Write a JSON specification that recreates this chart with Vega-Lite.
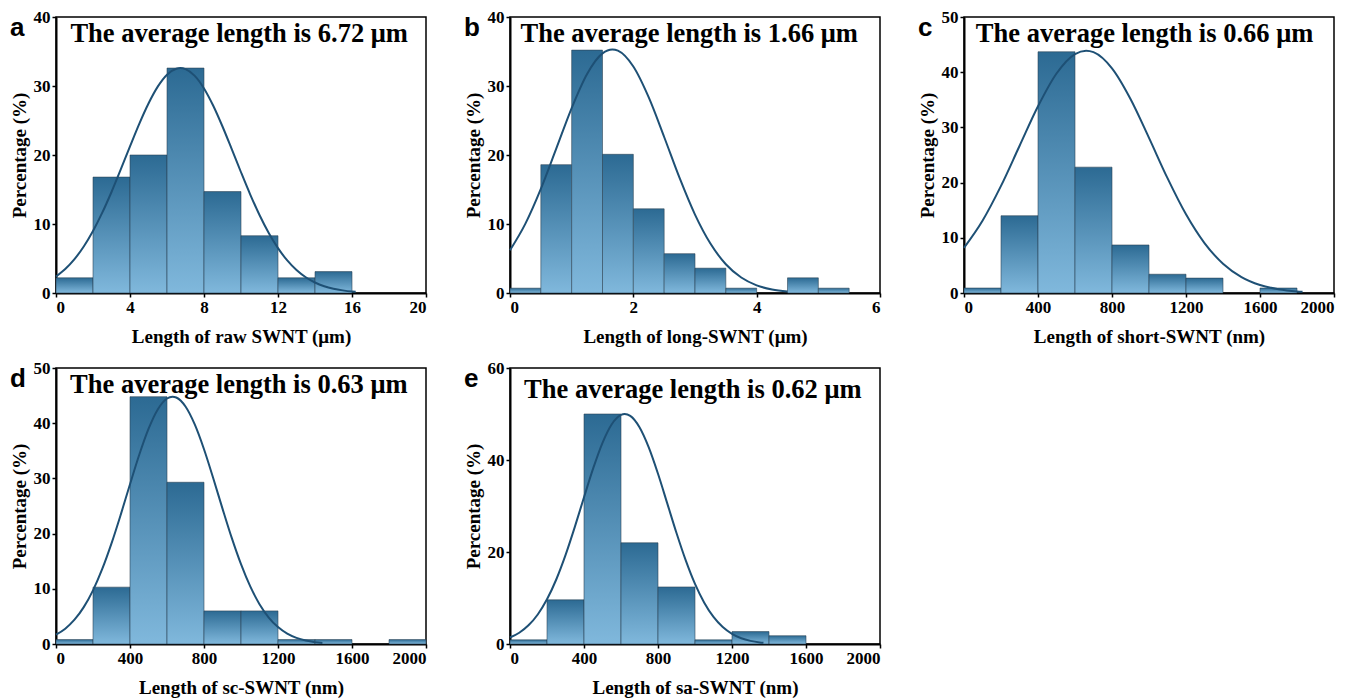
{
  "$schema": "https://vega.github.io/schema/vega-lite/v6.json",
  "padding": {"left": 9, "top": 7, "right": 0, "bottom": 5},
  "background": "white",
  "columns": 3,
  "bounds": "flush",
  "spacing": {"row": 75, "column": 84},
  "datasets": {
    "bars_a": [
      {"start": 0, "end": 2, "pct": 2.2}, {"start": 2, "end": 4, "pct": 16.8}, {"start": 4, "end": 6, "pct": 20.0},
      {"start": 6, "end": 8, "pct": 32.6}, {"start": 8, "end": 10, "pct": 14.7}, {"start": 10, "end": 12, "pct": 8.3},
      {"start": 12, "end": 14, "pct": 2.2}, {"start": 14, "end": 16, "pct": 3.1}
    ],
    "curve_a": [
      {"len": 0, "pct": 2.39}, {"len": 0.5, "pct": 3.48}, {"len": 1, "pct": 4.91}, {"len": 1.5, "pct": 6.74}, {"len": 2, "pct": 8.98},
      {"len": 2.5, "pct": 11.64}, {"len": 3, "pct": 14.64}, {"len": 3.5, "pct": 17.9}, {"len": 4, "pct": 21.25}, {"len": 4.5, "pct": 24.52},
      {"len": 5, "pct": 27.47}, {"len": 5.5, "pct": 29.91}, {"len": 6, "pct": 31.64}, {"len": 6.5, "pct": 32.51}, {"len": 6.72, "pct": 32.6},
      {"len": 7, "pct": 32.45}, {"len": 7.5, "pct": 31.47}, {"len": 8, "pct": 29.65}, {"len": 8.5, "pct": 27.14}, {"len": 9, "pct": 24.13},
      {"len": 9.5, "pct": 20.85}, {"len": 10, "pct": 17.5}, {"len": 10.5, "pct": 14.27}, {"len": 11, "pct": 11.3}, {"len": 11.5, "pct": 8.69},
      {"len": 12, "pct": 6.5}, {"len": 12.5, "pct": 4.72}, {"len": 13, "pct": 3.33}, {"len": 13.5, "pct": 2.28}, {"len": 14, "pct": 1.52},
      {"len": 14.5, "pct": 0.98}, {"len": 15, "pct": 0.62}, {"len": 15.5, "pct": 0.38}, {"len": 16, "pct": 0.22}, {"len": 16.2, "pct": 0.18}
    ],
    "bars_b": [
      {"start": 0, "end": 0.5, "pct": 0.7}, {"start": 0.5, "end": 1, "pct": 18.6}, {"start": 1, "end": 1.5, "pct": 35.2},
      {"start": 1.5, "end": 2, "pct": 20.1}, {"start": 2, "end": 2.5, "pct": 12.2}, {"start": 2.5, "end": 3, "pct": 5.7},
      {"start": 3, "end": 3.5, "pct": 3.6}, {"start": 3.5, "end": 4, "pct": 0.7}, {"start": 4.5, "end": 5, "pct": 2.2},
      {"start": 5, "end": 5.5, "pct": 0.7}
    ],
    "curve_b": [
      {"len": 0, "pct": 6.2}, {"len": 0.25, "pct": 10.06}, {"len": 0.5, "pct": 15.1}, {"len": 0.75, "pct": 20.93}, {"len": 1, "pct": 26.81},
      {"len": 1.25, "pct": 31.75}, {"len": 1.5, "pct": 34.73}, {"len": 1.66, "pct": 35.3}, {"len": 1.75, "pct": 35.12}, {"len": 2, "pct": 32.82},
      {"len": 2.25, "pct": 28.34}, {"len": 2.5, "pct": 22.61}, {"len": 2.75, "pct": 16.67}, {"len": 3, "pct": 11.36}, {"len": 3.25, "pct": 7.16},
      {"len": 3.5, "pct": 4.17}, {"len": 3.75, "pct": 2.24}, {"len": 4, "pct": 1.11}, {"len": 4.25, "pct": 0.51}, {"len": 4.5, "pct": 0.22}
    ],
    "bars_c": [
      {"start": 0, "end": 200, "pct": 0.9}, {"start": 200, "end": 400, "pct": 14.0}, {"start": 400, "end": 600, "pct": 43.7},
      {"start": 600, "end": 800, "pct": 22.8}, {"start": 800, "end": 1000, "pct": 8.7}, {"start": 1000, "end": 1200, "pct": 3.4},
      {"start": 1200, "end": 1400, "pct": 2.7}, {"start": 1600, "end": 1800, "pct": 0.9}
    ],
    "curve_c": [
      {"len": 0, "pct": 8.18}, {"len": 100, "pct": 13.09}, {"len": 200, "pct": 19.4}, {"len": 300, "pct": 26.63}, {"len": 400, "pct": 33.82},
      {"len": 500, "pct": 39.77}, {"len": 600, "pct": 43.29}, {"len": 660, "pct": 43.9}, {"len": 700, "pct": 43.63}, {"len": 800, "pct": 40.7},
      {"len": 900, "pct": 35.15}, {"len": 1000, "pct": 28.1}, {"len": 1100, "pct": 20.8}, {"len": 1200, "pct": 14.25}, {"len": 1300, "pct": 9.04},
      {"len": 1400, "pct": 5.31}, {"len": 1500, "pct": 2.89}, {"len": 1600, "pct": 1.45}, {"len": 1700, "pct": 0.68}, {"len": 1800, "pct": 0.29},
      {"len": 1830, "pct": 0.22}
    ],
    "bars_d": [
      {"start": 0, "end": 200, "pct": 0.8}, {"start": 200, "end": 400, "pct": 10.3}, {"start": 400, "end": 600, "pct": 44.8},
      {"start": 600, "end": 800, "pct": 29.3}, {"start": 800, "end": 1000, "pct": 6.0}, {"start": 1000, "end": 1200, "pct": 6.0},
      {"start": 1200, "end": 1400, "pct": 0.8}, {"start": 1400, "end": 1600, "pct": 0.8}, {"start": 1800, "end": 2000, "pct": 0.8}
    ],
    "curve_d": [
      {"len": 0, "pct": 1.69}, {"len": 50, "pct": 2.78}, {"len": 100, "pct": 4.4}, {"len": 150, "pct": 6.68}, {"len": 200, "pct": 9.72},
      {"len": 250, "pct": 13.59}, {"len": 300, "pct": 18.22}, {"len": 350, "pct": 23.44}, {"len": 400, "pct": 28.94}, {"len": 450, "pct": 34.28},
      {"len": 500, "pct": 38.96}, {"len": 550, "pct": 42.49}, {"len": 600, "pct": 44.47}, {"len": 630, "pct": 44.8}, {"len": 650, "pct": 44.65},
      {"len": 700, "pct": 43.02}, {"len": 750, "pct": 39.77}, {"len": 800, "pct": 35.28}, {"len": 850, "pct": 30.03}, {"len": 900, "pct": 24.53},
      {"len": 950, "pct": 19.22}, {"len": 1000, "pct": 14.46}, {"len": 1050, "pct": 10.43}, {"len": 1100, "pct": 7.22}, {"len": 1150, "pct": 4.8},
      {"len": 1200, "pct": 3.06}, {"len": 1250, "pct": 1.87}, {"len": 1300, "pct": 1.1}, {"len": 1350, "pct": 0.62}, {"len": 1400, "pct": 0.33},
      {"len": 1440, "pct": 0.2}
    ],
    "bars_e": [
      {"start": 0, "end": 200, "pct": 0.9}, {"start": 200, "end": 400, "pct": 9.6}, {"start": 400, "end": 600, "pct": 50.0},
      {"start": 600, "end": 800, "pct": 22.0}, {"start": 800, "end": 1000, "pct": 12.4}, {"start": 1000, "end": 1200, "pct": 0.9},
      {"start": 1200, "end": 1400, "pct": 2.7}, {"start": 1400, "end": 1600, "pct": 1.8}
    ],
    "curve_e": [
      {"len": 0, "pct": 1.41}, {"len": 50, "pct": 2.45}, {"len": 100, "pct": 4.06}, {"len": 150, "pct": 6.42}, {"len": 200, "pct": 9.71},
      {"len": 250, "pct": 14.02}, {"len": 300, "pct": 19.31}, {"len": 350, "pct": 25.4}, {"len": 400, "pct": 31.89}, {"len": 450, "pct": 38.22},
      {"len": 500, "pct": 43.74}, {"len": 550, "pct": 47.78}, {"len": 600, "pct": 49.81}, {"len": 620, "pct": 50.0}, {"len": 650, "pct": 49.58},
      {"len": 700, "pct": 47.11}, {"len": 750, "pct": 42.73}, {"len": 800, "pct": 37.0}, {"len": 850, "pct": 30.58}, {"len": 900, "pct": 24.13},
      {"len": 950, "pct": 18.18}, {"len": 1000, "pct": 13.07}, {"len": 1050, "pct": 8.97}, {"len": 1100, "pct": 5.88}, {"len": 1150, "pct": 3.68},
      {"len": 1200, "pct": 2.2}, {"len": 1250, "pct": 1.25}, {"len": 1300, "pct": 0.68}, {"len": 1350, "pct": 0.35}, {"len": 1370, "pct": 0.27}
    ]
  },
  "concat": [
    {
      "width": 370, "height": 276,
      "title": {"text": "a"},
      "layer": [
        {
          "data": {"name": "bars_a"},
          "mark": {"type": "bar", "stroke": "#2a3f4f", "strokeWidth": 0.8, "strokeOpacity": 0.7,
            "color": {"gradient": "linear", "x1": 0, "y1": 0, "x2": 0, "y2": 1, "stops": [{"offset": 0, "color": "#2c6a93"}, {"offset": 1, "color": "#80b8dc"}]}},
          "encoding": {
            "x": {"field": "start", "type": "quantitative", "title": "Length of raw SWNT (μm)", "scale": {"domain": [0, 20], "nice": false}, "axis": {"values": [0, 4, 8, 12, 16, 20], "format": "d", "titleFontSize": 19, "labelFontSize": 17}},
            "x2": {"field": "end"},
            "y": {"field": "pct", "type": "quantitative", "title": "Percentage (%)", "scale": {"domain": [0, 40], "nice": false}, "axis": {"values": [0, 10, 20, 30, 40], "format": "d", "titleFontSize": 19, "labelFontSize": 17}},
            "y2": {"datum": 0}
          }
        },
        {
          "data": {"name": "curve_a"},
          "mark": {"type": "line", "color": "#1e5075", "strokeWidth": 2, "interpolate": "monotone"},
          "encoding": {
            "x": {"field": "len", "type": "quantitative", "title": "Length of raw SWNT (μm)"},
            "y": {"field": "pct", "type": "quantitative", "title": "Percentage (%)"}
          }
        },
        {
          "data": {"values": [{"label": "The average length is 6.72 μm"}]},
          "mark": {"type": "text", "font": "Liberation Serif", "fontWeight": "bold", "fontSize": 26.5, "align": "center", "baseline": "alphabetic", "color": "#000"},
          "encoding": {"x": {"datum": 9.9}, "y": {"datum": 36.4}, "text": {"field": "label"}}
        }
      ]
    },
    {
      "width": 370, "height": 276,
      "title": {"text": "b"},
      "layer": [
        {
          "data": {"name": "bars_b"},
          "mark": {"type": "bar", "stroke": "#2a3f4f", "strokeWidth": 0.8, "strokeOpacity": 0.7,
            "color": {"gradient": "linear", "x1": 0, "y1": 0, "x2": 0, "y2": 1, "stops": [{"offset": 0, "color": "#2c6a93"}, {"offset": 1, "color": "#80b8dc"}]}},
          "encoding": {
            "x": {"field": "start", "type": "quantitative", "title": "Length of long-SWNT (μm)", "scale": {"domain": [0, 6], "nice": false}, "axis": {"values": [0, 2, 4, 6], "format": "d", "titleFontSize": 19, "labelFontSize": 17}},
            "x2": {"field": "end"},
            "y": {"field": "pct", "type": "quantitative", "title": "Percentage (%)", "scale": {"domain": [0, 40], "nice": false}, "axis": {"values": [0, 10, 20, 30, 40], "format": "d", "titleFontSize": 19, "labelFontSize": 17}},
            "y2": {"datum": 0}
          }
        },
        {
          "data": {"name": "curve_b"},
          "mark": {"type": "line", "color": "#1e5075", "strokeWidth": 2, "interpolate": "monotone"},
          "encoding": {
            "x": {"field": "len", "type": "quantitative", "title": "Length of long-SWNT (μm)"},
            "y": {"field": "pct", "type": "quantitative", "title": "Percentage (%)"}
          }
        },
        {
          "data": {"values": [{"label": "The average length is 1.66 μm"}]},
          "mark": {"type": "text", "font": "Liberation Serif", "fontWeight": "bold", "fontSize": 26.5, "align": "center", "baseline": "alphabetic", "color": "#000"},
          "encoding": {"x": {"datum": 2.906}, "y": {"datum": 36.4}, "text": {"field": "label"}}
        }
      ]
    },
    {
      "width": 370, "height": 276,
      "title": {"text": "c"},
      "layer": [
        {
          "data": {"name": "bars_c"},
          "mark": {"type": "bar", "stroke": "#2a3f4f", "strokeWidth": 0.8, "strokeOpacity": 0.7,
            "color": {"gradient": "linear", "x1": 0, "y1": 0, "x2": 0, "y2": 1, "stops": [{"offset": 0, "color": "#2c6a93"}, {"offset": 1, "color": "#80b8dc"}]}},
          "encoding": {
            "x": {"field": "start", "type": "quantitative", "title": "Length of short-SWNT (nm)", "scale": {"domain": [0, 2000], "nice": false}, "axis": {"values": [0, 400, 800, 1200, 1600, 2000], "format": "d", "titleFontSize": 19, "labelFontSize": 17}},
            "x2": {"field": "end"},
            "y": {"field": "pct", "type": "quantitative", "title": "Percentage (%)", "scale": {"domain": [0, 50], "nice": false}, "axis": {"values": [0, 10, 20, 30, 40, 50], "format": "d", "titleFontSize": 19, "labelFontSize": 17}},
            "y2": {"datum": 0}
          }
        },
        {
          "data": {"name": "curve_c"},
          "mark": {"type": "line", "color": "#1e5075", "strokeWidth": 2, "interpolate": "monotone"},
          "encoding": {
            "x": {"field": "len", "type": "quantitative", "title": "Length of short-SWNT (nm)"},
            "y": {"field": "pct", "type": "quantitative", "title": "Percentage (%)"}
          }
        },
        {
          "data": {"values": [{"label": "The average length is 0.66 μm"}]},
          "mark": {"type": "text", "font": "Liberation Serif", "fontWeight": "bold", "fontSize": 26.5, "align": "center", "baseline": "alphabetic", "color": "#000"},
          "encoding": {"x": {"datum": 976}, "y": {"datum": 45.4}, "text": {"field": "label"}}
        }
      ]
    },
    {
      "width": 370, "height": 276,
      "title": {"text": "d"},
      "layer": [
        {
          "data": {"name": "bars_d"},
          "mark": {"type": "bar", "stroke": "#2a3f4f", "strokeWidth": 0.8, "strokeOpacity": 0.7,
            "color": {"gradient": "linear", "x1": 0, "y1": 0, "x2": 0, "y2": 1, "stops": [{"offset": 0, "color": "#2c6a93"}, {"offset": 1, "color": "#80b8dc"}]}},
          "encoding": {
            "x": {"field": "start", "type": "quantitative", "title": "Length of sc-SWNT (nm)", "scale": {"domain": [0, 2000], "nice": false}, "axis": {"values": [0, 400, 800, 1200, 1600, 2000], "format": "d", "titleFontSize": 19, "labelFontSize": 17}},
            "x2": {"field": "end"},
            "y": {"field": "pct", "type": "quantitative", "title": "Percentage (%)", "scale": {"domain": [0, 50], "nice": false}, "axis": {"values": [0, 10, 20, 30, 40, 50], "format": "d", "titleFontSize": 19, "labelFontSize": 17}},
            "y2": {"datum": 0}
          }
        },
        {
          "data": {"name": "curve_d"},
          "mark": {"type": "line", "color": "#1e5075", "strokeWidth": 2, "interpolate": "monotone"},
          "encoding": {
            "x": {"field": "len", "type": "quantitative", "title": "Length of sc-SWNT (nm)"},
            "y": {"field": "pct", "type": "quantitative", "title": "Percentage (%)"}
          }
        },
        {
          "data": {"values": [{"label": "The average length is 0.63 μm"}]},
          "mark": {"type": "text", "font": "Liberation Serif", "fontWeight": "bold", "fontSize": 26.5, "align": "center", "baseline": "alphabetic", "color": "#000"},
          "encoding": {"x": {"datum": 988}, "y": {"datum": 45.4}, "text": {"field": "label"}}
        }
      ]
    },
    {
      "width": 370, "height": 276,
      "title": {"text": "e"},
      "layer": [
        {
          "data": {"name": "bars_e"},
          "mark": {"type": "bar", "stroke": "#2a3f4f", "strokeWidth": 0.8, "strokeOpacity": 0.7,
            "color": {"gradient": "linear", "x1": 0, "y1": 0, "x2": 0, "y2": 1, "stops": [{"offset": 0, "color": "#2c6a93"}, {"offset": 1, "color": "#80b8dc"}]}},
          "encoding": {
            "x": {"field": "start", "type": "quantitative", "title": "Length of sa-SWNT (nm)", "scale": {"domain": [0, 2000], "nice": false}, "axis": {"values": [0, 400, 800, 1200, 1600, 2000], "format": "d", "titleFontSize": 19, "labelFontSize": 17}},
            "x2": {"field": "end"},
            "y": {"field": "pct", "type": "quantitative", "title": "Percentage (%)", "scale": {"domain": [0, 60], "nice": false}, "axis": {"values": [0, 20, 40, 60], "format": "d", "titleFontSize": 19, "labelFontSize": 17}},
            "y2": {"datum": 0}
          }
        },
        {
          "data": {"name": "curve_e"},
          "mark": {"type": "line", "color": "#1e5075", "strokeWidth": 2, "interpolate": "monotone"},
          "encoding": {
            "x": {"field": "len", "type": "quantitative", "title": "Length of sa-SWNT (nm)"},
            "y": {"field": "pct", "type": "quantitative", "title": "Percentage (%)"}
          }
        },
        {
          "data": {"values": [{"label": "The average length is 0.62 μm"}]},
          "mark": {"type": "text", "font": "Liberation Serif", "fontWeight": "bold", "fontSize": 26.5, "align": "center", "baseline": "alphabetic", "color": "#000"},
          "encoding": {"x": {"datum": 988}, "y": {"datum": 53.5}, "text": {"field": "label"}}
        }
      ]
    }
  ],
  "config": {
    "font": "Liberation Serif",
    "view": {"stroke": "#000", "strokeWidth": 1.5},
    "axis": {
      "grid": false, "domainColor": "#000", "domainWidth": 2, "tickColor": "#000", "tickWidth": 1.5, "tickSize": 4,
      "labelFont": "Liberation Serif", "labelFontWeight": "bold", "labelFontSize": 17, "labelColor": "#000", "labelPadding": 2,
      "titleFont": "Liberation Serif", "titleFontWeight": "bold", "titleColor": "#000"
    },
    "axisX": {"titlePadding": 12, "labelAngle": 0},
    "axisY": {"titlePadding": 4},
    "style": {
      "guide-label": {"font": "Liberation Serif", "fontWeight": "bold"},
      "guide-title": {"font": "Liberation Serif", "fontWeight": "bold"}
    },
    "title": {"font": "Liberation Sans", "fontWeight": "bold", "fontSize": 26, "color": "#000", "anchor": "start", "frame": "bounds", "offset": 0, "baseline": "alphabetic", "dy": 37}
  }
}
